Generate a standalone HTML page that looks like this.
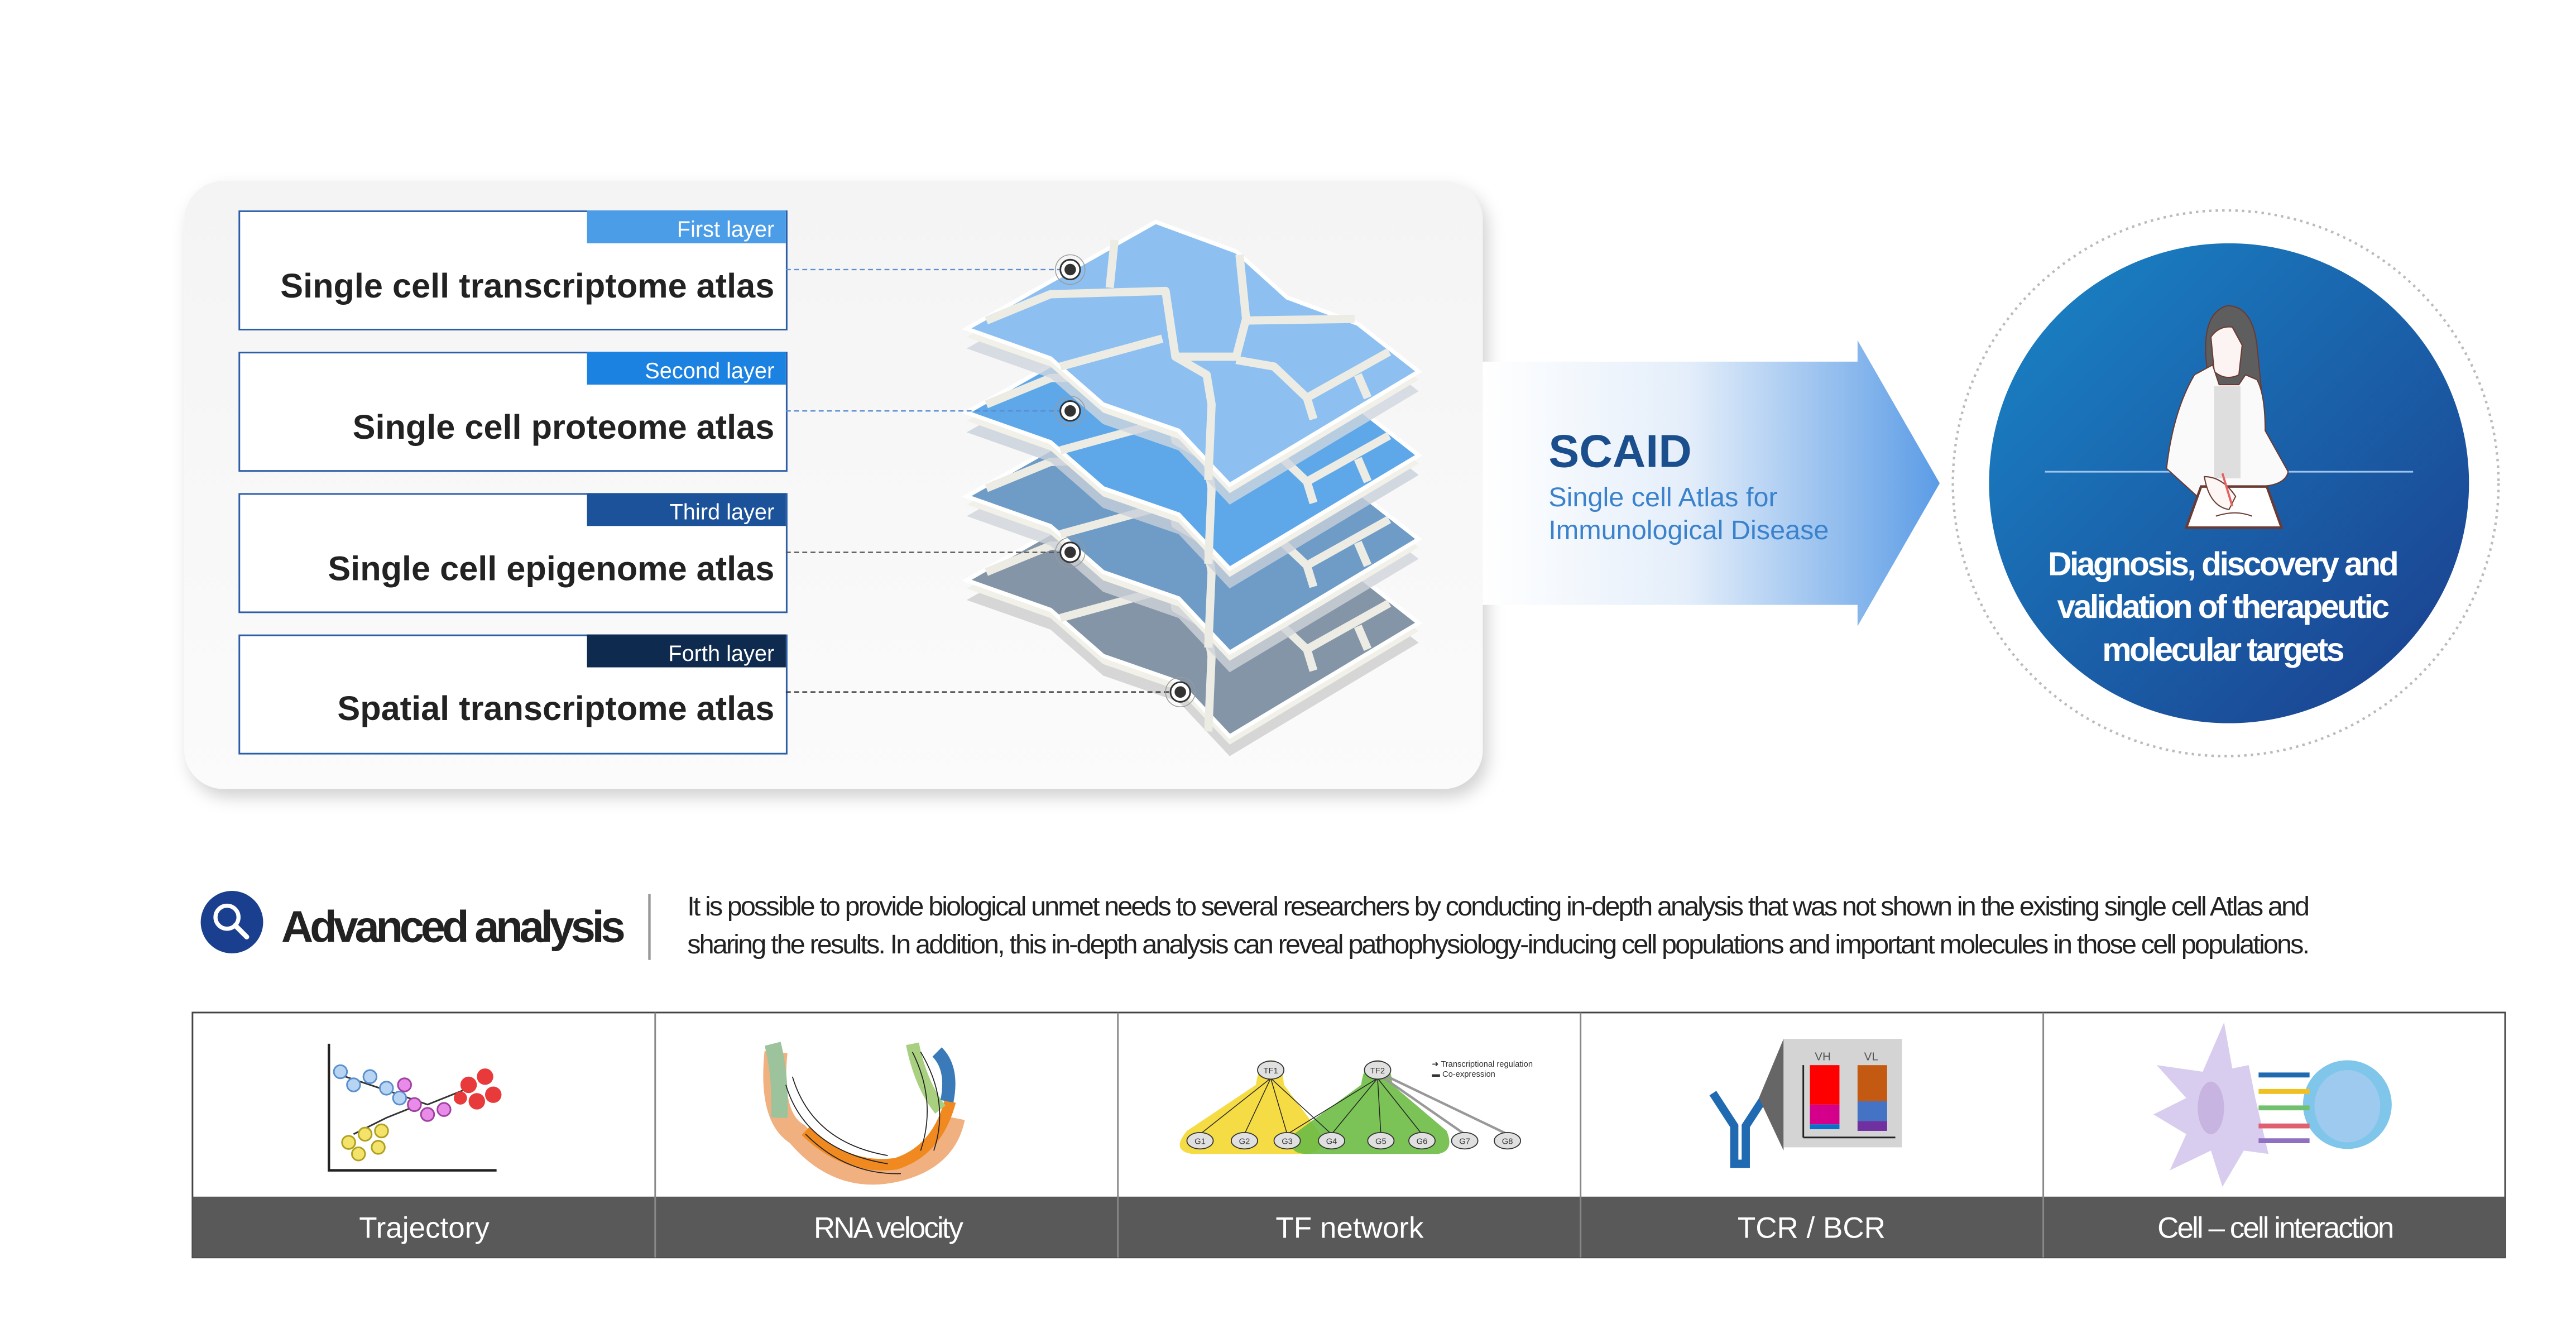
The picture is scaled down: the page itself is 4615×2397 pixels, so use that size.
<!DOCTYPE html>
<html><head><meta charset="utf-8">
<style>
html,body{margin:0;padding:0;background:#fff;}
svg{display:block;}
text{font-family:"Liberation Sans","DejaVu Sans",sans-serif;}
</style></head>
<body>
<svg width="4615" height="2397" viewBox="0 0 1567 814" xmlns="http://www.w3.org/2000/svg">
<defs>
<linearGradient id="panel" x1="0" y1="0" x2="0" y2="1"><stop offset="0" stop-color="#f4f4f4"/><stop offset="1" stop-color="#fbfbfb"/></linearGradient>
<linearGradient id="arr" x1="0" y1="0" x2="1" y2="0"><stop offset="0" stop-color="#ffffff"/><stop offset="0.45" stop-color="#e4eefa"/><stop offset="1" stop-color="#5b9ce6"/></linearGradient>
<linearGradient id="circ" x1="0" y1="0" x2="1" y2="1"><stop offset="0" stop-color="#1a86c8"/><stop offset="1" stop-color="#1b3d8c"/></linearGradient>
<filter id="sh" x="-10%" y="-10%" width="120%" height="130%"><feDropShadow dx="3" dy="5" stdDeviation="5" flood-color="#000" flood-opacity="0.18"/></filter>
<polygon id="lay" points="588,200 639,218 671,246 717,262 748,295 863,226 826,197 783,181 752,153 703,135"/>
<g id="roads" fill="none" stroke="#ecece4" stroke-width="5" stroke-linejoin="round">
  <path d="M678,146 L675,175"/>
  <path d="M600,195 L639,179 L709,177 L715,217 L734,228 L737,246 L735,292"/>
  <path d="M754,155 L758,194 L752,217 L715,217"/>
  <path d="M758,195 L824,194"/>
  <path d="M752,219 L775,223 L795,242 L799,255"/>
  <path d="M795,242 L845,214"/>
  <path d="M826,228 L832,242"/>
  <path d="M645,223 L707,206"/>
</g>
</defs>

<rect x="112" y="110" width="790" height="370" rx="24" fill="url(#panel)" filter="url(#sh)"/>

<g>
<rect x="145.5" y="128.5" width="333" height="72" fill="#fff" stroke="#2c5da8" stroke-width="1"/>
<rect x="357" y="128" width="121" height="20" fill="#4b9de8"/>
<text x="471" y="144" font-size="13.5" fill="#fff" text-anchor="end">First layer</text>
<text x="471" y="181" font-size="20.8" font-weight="bold" fill="#222" text-anchor="end">Single cell transcriptome atlas</text>

<rect x="145.5" y="214.5" width="333" height="72" fill="#fff" stroke="#2c5da8" stroke-width="1"/>
<rect x="357" y="214" width="121" height="20" fill="#1c82e2"/>
<text x="471" y="230" font-size="13.5" fill="#fff" text-anchor="end">Second layer</text>
<text x="471" y="267" font-size="20.8" font-weight="bold" fill="#222" text-anchor="end">Single cell proteome atlas</text>

<rect x="145.5" y="300.5" width="333" height="72" fill="#fff" stroke="#2c5da8" stroke-width="1"/>
<rect x="357" y="300" width="121" height="20" fill="#1b5299"/>
<text x="471" y="316" font-size="13.5" fill="#fff" text-anchor="end">Third layer</text>
<text x="471" y="353" font-size="20.8" font-weight="bold" fill="#222" text-anchor="end">Single cell epigenome atlas</text>

<rect x="145.5" y="386.5" width="333" height="72" fill="#fff" stroke="#2c5da8" stroke-width="1"/>
<rect x="357" y="386" width="121" height="20" fill="#0e2a4e"/>
<text x="471" y="402" font-size="13.5" fill="#fff" text-anchor="end">Forth layer</text>
<text x="471" y="438" font-size="20.8" font-weight="bold" fill="#222" text-anchor="end">Spatial transcriptome atlas</text>
</g>

<g>
 <g transform="translate(0,153)">
  <use href="#lay" fill="#d6d6d6" transform="translate(0,12)"/>
  <use href="#lay" fill="#f1f1ea" transform="translate(0,5)"/>
  <use href="#lay" fill="#8495a8" stroke="#fff" stroke-width="2.5"/>
  <use href="#roads"/>
 </g>
 <g transform="translate(0,102)">
  <use href="#lay" fill="#cfd3d8" transform="translate(0,12)" opacity="0.8"/>
  <use href="#lay" fill="#f1f1ea" transform="translate(0,5)"/>
  <use href="#lay" fill="#6e9cc6" stroke="#fff" stroke-width="2.5"/>
  <use href="#roads"/>
 </g>
 <g transform="translate(0,51)">
  <use href="#lay" fill="#c8cfd8" transform="translate(0,12)" opacity="0.8"/>
  <use href="#lay" fill="#f1f1ea" transform="translate(0,5)"/>
  <use href="#lay" fill="#5ea8ea" stroke="#fff" stroke-width="2.5"/>
  <use href="#roads"/>
 </g>
 <g>
  <use href="#lay" fill="#d0d6de" transform="translate(0,12)" opacity="0.8"/>
  <use href="#lay" fill="#f1f1ea" transform="translate(0,5)"/>
  <use href="#lay" fill="#8dc0f0" stroke="#fff" stroke-width="2.5"/>
  <use href="#roads"/>
 </g>
</g>

<g stroke-width="0.8" stroke-dasharray="3,2" fill="none">
 <line x1="478" y1="164" x2="645" y2="164" stroke="#5b8fd0"/>
 <line x1="478" y1="250" x2="645" y2="250" stroke="#5b8fd0"/>
 <line x1="478" y1="336" x2="645" y2="336" stroke="#555"/>
 <line x1="478" y1="421" x2="712" y2="421" stroke="#333"/>
</g>
<g>
 <g fill="#fff" stroke="#333" stroke-width="1"><circle cx="651" cy="164" r="6"/><circle cx="651" cy="250" r="6"/><circle cx="651" cy="336" r="6"/><circle cx="718" cy="421" r="6"/></g>
 <g fill="none" stroke="#999" stroke-width="0.5"><circle cx="651" cy="164" r="9"/><circle cx="651" cy="250" r="9"/><circle cx="651" cy="336" r="9"/><circle cx="718" cy="421" r="9"/></g>
 <g fill="#333"><circle cx="651" cy="164" r="3.5"/><circle cx="651" cy="250" r="3.5"/><circle cx="651" cy="336" r="3.5"/><circle cx="718" cy="421" r="3.5"/></g>
</g>

<polygon points="902,220 1130,220 1130,207 1180,294 1130,381 1130,368 902,368" fill="url(#arr)"/>
<text x="942" y="284" font-size="28" font-weight="bold" fill="#1b4e8c">SCAID</text>
<text x="942" y="308" font-size="16.5" fill="#3a82cc">Single cell Atlas for</text>
<text x="942" y="328" font-size="16.5" fill="#3a82cc">Immunological Disease</text>

<circle cx="1354" cy="294" r="166" fill="#fff" stroke="#bbb" stroke-width="1.5" stroke-dasharray="1.5,2.5"/>
<circle cx="1356" cy="294" r="146" fill="url(#circ)"/>
<line x1="1244" y1="287" x2="1468" y2="287" stroke="#9ec4f0" stroke-width="1"/>
<g stroke="#6b3a33" stroke-width="0.7">
 <path d="M1342,218 Q1340,190 1355,186 Q1370,186 1373,210 L1376,240 L1368,255 L1345,250 Z" fill="#5e5e5e"/>
 <path d="M1345,205 Q1350,198 1358,199 L1364,210 L1362,228 Q1354,232 1347,226 Z" fill="#fcf4f2"/>
 <path d="M1335,228 L1346,222 L1350,234 L1362,234 L1366,228 L1373,231 Q1378,240 1378,262 L1392,287 Q1390,296 1372,296 L1350,298 L1340,305 L1318,285 Q1322,250 1335,228 Z" fill="#fafafa"/>
 <rect x="1347" y="235" width="16" height="56" fill="#dedede" stroke="none"/>
 <polygon points="1330,321 1339,296 1379,296 1388,321" fill="#fff" stroke="#6b3a33" stroke-width="1.5"/>
 <path d="M1341,290 Q1352,290 1360,302 L1356,310 Q1344,308 1341,290 Z" fill="#fdf6f4"/>
 <line x1="1352" y1="288" x2="1358" y2="308" stroke="#e56060" stroke-width="1.3"/>
 <path d="M1348,314 Q1360,310 1370,314" fill="none"/>
</g>
<g font-size="20" font-weight="bold" fill="#fff" text-anchor="middle" letter-spacing="-1.2">
 <text x="1352" y="350">Diagnosis, discovery and</text>
 <text x="1352" y="376">validation of therapeutic</text>
 <text x="1352" y="402">molecular targets</text>
</g>

<circle cx="141" cy="561" r="19" fill="#1b3f8f"/>
<circle cx="138" cy="558" r="7" fill="none" stroke="#fff" stroke-width="2.5"/>
<line x1="143" y1="563" x2="150" y2="570" stroke="#fff" stroke-width="3" stroke-linecap="round"/>
<text x="171" y="573" font-size="27" font-weight="bold" fill="#222" letter-spacing="-2.1">Advanced analysis</text>
<line x1="395" y1="544" x2="395" y2="584" stroke="#999" stroke-width="1.5"/>
<text x="418" y="557" font-size="16.5" fill="#222" letter-spacing="-1.15" textLength="986" lengthAdjust="spacing">It is possible to provide biological unmet needs to several researchers by conducting in-depth analysis that was not shown in the existing single cell Atlas and</text>
<text x="418" y="580" font-size="16.5" fill="#222" letter-spacing="-1.15" textLength="986" lengthAdjust="spacing">sharing the results. In addition, this in-depth analysis can reveal pathophysiology-inducing cell populations and important molecules in those cell populations.</text>

<rect x="117" y="616" width="1407" height="149" fill="#fff" stroke="#444" stroke-width="1"/>
<rect x="117" y="728" width="1407" height="37" fill="#595959"/>
<g stroke="#888" stroke-width="1">
 <line x1="398.5" y1="616" x2="398.5" y2="765"/>
 <line x1="680" y1="616" x2="680" y2="765"/>
 <line x1="961.5" y1="616" x2="961.5" y2="765"/>
 <line x1="1243" y1="616" x2="1243" y2="765"/>
</g>
<g font-size="18" fill="#fff" text-anchor="middle">
 <text x="258" y="753">Trajectory</text>
 <text x="540" y="753" letter-spacing="-1">RNA velocity</text>
 <text x="821" y="753">TF network</text>
 <text x="1102" y="753">TCR / BCR</text>
 <text x="1384" y="753" letter-spacing="-1">Cell – cell interaction</text>
</g>

<g>
 <path d="M200,635 L200,712 L302,712" fill="none" stroke="#222" stroke-width="1.5"/>
 <polyline points="210,655 240,665 260,672 285,662" fill="none" stroke="#333"/>
 <polyline points="215,690 235,680 255,672" fill="none" stroke="#333"/>
 <g fill="#b7d4f2" stroke="#5a8fd0"><circle cx="207" cy="652" r="4"/><circle cx="215" cy="660" r="4"/><circle cx="225" cy="655" r="4"/><circle cx="235" cy="662" r="4"/><circle cx="243" cy="668" r="4"/></g>
 <g fill="#e98be8" stroke="#a040a0"><circle cx="252" cy="672" r="4"/><circle cx="260" cy="678" r="4"/><circle cx="270" cy="675" r="4"/><circle cx="246" cy="660" r="4"/></g>
 <g fill="#e83a3a"><circle cx="285" cy="660" r="5"/><circle cx="295" cy="655" r="5"/><circle cx="300" cy="666" r="5"/><circle cx="290" cy="670" r="5"/><circle cx="280" cy="668" r="4"/></g>
 <g fill="#f3e36a" stroke="#b0a020"><circle cx="212" cy="695" r="4"/><circle cx="222" cy="690" r="4"/><circle cx="230" cy="698" r="4"/><circle cx="218" cy="702" r="4"/><circle cx="232" cy="688" r="4"/></g>
</g>
<g fill="none">
 <path d="M472,640 Q468,680 485,690 Q510,720 545,712 Q575,705 580,680" stroke="#f1b080" stroke-width="14"/>
 <path d="M490,688 Q515,712 545,708 Q570,700 578,670" stroke="#f08a20" stroke-width="7"/>
 <path d="M470,635 Q475,655 474,680" stroke="#9cc39c" stroke-width="10"/>
 <path d="M555,635 Q560,660 572,675" stroke="#a8d080" stroke-width="8"/>
 <path d="M570,640 Q580,650 576,670" stroke="#3a7ab8" stroke-width="8"/>
 <g stroke="#222" stroke-width="0.6">
 <path d="M478,660 Q490,700 540,708"/><path d="M482,655 Q494,695 540,703"/><path d="M490,690 Q515,715 548,714"/>
 <path d="M555,640 Q570,670 560,700"/><path d="M560,640 Q578,670 568,700"/></g>
</g>
<g font-size="6" fill="#333">
 <path d="M773,645 Q766,645 764,660 L722,688 Q712,700 725,702 L795,702 Q808,700 802,688 L781,660 Q780,645 773,645 Z" fill="#f5dc45"/>
 <path d="M838,645 Q830,645 828,660 L787,690 Q782,702 795,702 L875,702 Q885,700 880,688 L847,660 Q846,645 838,645 Z" fill="#6dbb45" opacity="0.9"/>
 <g stroke="#222" stroke-width="0.5"><line x1="773" y1="656" x2="730" y2="690"/><line x1="773" y1="656" x2="757" y2="690"/><line x1="773" y1="656" x2="783" y2="690"/><line x1="773" y1="656" x2="810" y2="690"/>
 <line x1="838" y1="656" x2="783" y2="690"/><line x1="838" y1="656" x2="810" y2="690"/><line x1="838" y1="656" x2="840" y2="690"/><line x1="838" y1="656" x2="865" y2="690"/></g>
 <g stroke="#999" stroke-width="1.5"><line x1="842" y1="656" x2="891" y2="690"/><line x1="844" y1="655" x2="917" y2="690"/></g>
 <g stroke="#333" stroke-width="0.6" fill="#e0e0e0"><ellipse cx="773" cy="651" rx="8" ry="5.5"/><ellipse cx="838" cy="651" rx="8" ry="5.5"/>
 <ellipse cx="730" cy="694" rx="8" ry="5"/><ellipse cx="757" cy="694" rx="8" ry="5"/><ellipse cx="783" cy="694" rx="8" ry="5"/><ellipse cx="810" cy="694" rx="8" ry="5"/><ellipse cx="840" cy="694" rx="8" ry="5"/><ellipse cx="865" cy="694" rx="8" ry="5"/><ellipse cx="891" cy="694" rx="8" ry="5"/><ellipse cx="917" cy="694" rx="8" ry="5"/></g>
 <g font-size="5" text-anchor="middle"><text x="773" y="653">TF1</text><text x="838" y="653">TF2</text><text x="730" y="696">G1</text><text x="757" y="696">G2</text><text x="783" y="696">G3</text><text x="810" y="696">G4</text><text x="840" y="696">G5</text><text x="865" y="696">G6</text><text x="891" y="696">G7</text><text x="917" y="696">G8</text></g>
 <text x="871" y="649" font-size="5">➜ Transcriptional regulation</text>
 <text x="871" y="655" font-size="5">▬ Co-expression</text>
</g>
<g>
 <path d="M1042,665 L1055,685 L1055,708 L1062,708 L1062,685 L1075,665" fill="none" stroke="#1f6ab0" stroke-width="5"/>
 <polygon points="1070,668 1085,632 1085,700" fill="#666"/>
 <rect x="1085" y="632" width="72" height="66" fill="#d4d4d4"/>
 <rect x="1101" y="648" width="18" height="24" fill="#ff0000"/>
 <rect x="1101" y="672" width="18" height="12" fill="#d4008c"/>
 <rect x="1101" y="684" width="18" height="3" fill="#0a70c8"/>
 <rect x="1130" y="648" width="18" height="22" fill="#c45a12"/>
 <rect x="1130" y="670" width="18" height="12" fill="#4472c4"/>
 <rect x="1130" y="682" width="18" height="6" fill="#7030a0"/>
 <line x1="1097" y1="648" x2="1097" y2="692" stroke="#222"/><line x1="1097" y1="692" x2="1153" y2="692" stroke="#222"/>
 <text x="1104" y="645" font-size="7" fill="#555">VH</text><text x="1134" y="645" font-size="7" fill="#555">VL</text>
</g>
<g>
 <path d="M1353,622 L1358,650 L1368,648 L1372,668 L1380,702 L1365,700 L1352,722 L1345,700 L1320,712 L1330,690 L1310,678 L1330,668 L1312,648 L1340,652 Z" fill="#d8cdee"/>
 <ellipse cx="1345" cy="674" rx="8" ry="16" fill="#c7b4e0"/>
 <circle cx="1428" cy="672" r="27" fill="#7fc6ea"/>
 <ellipse cx="1428" cy="673" rx="20" ry="22" fill="#9ecaef"/>
 <g stroke-width="3"><line x1="1374" y1="654" x2="1405" y2="654" stroke="#1f6ab0"/><line x1="1374" y1="664" x2="1405" y2="664" stroke="#f0c020"/><line x1="1374" y1="674" x2="1405" y2="674" stroke="#70c070"/><line x1="1374" y1="685" x2="1405" y2="685" stroke="#e06070"/><line x1="1374" y1="694" x2="1405" y2="694" stroke="#9070c0"/></g>
</g>
</svg>
</body></html>
